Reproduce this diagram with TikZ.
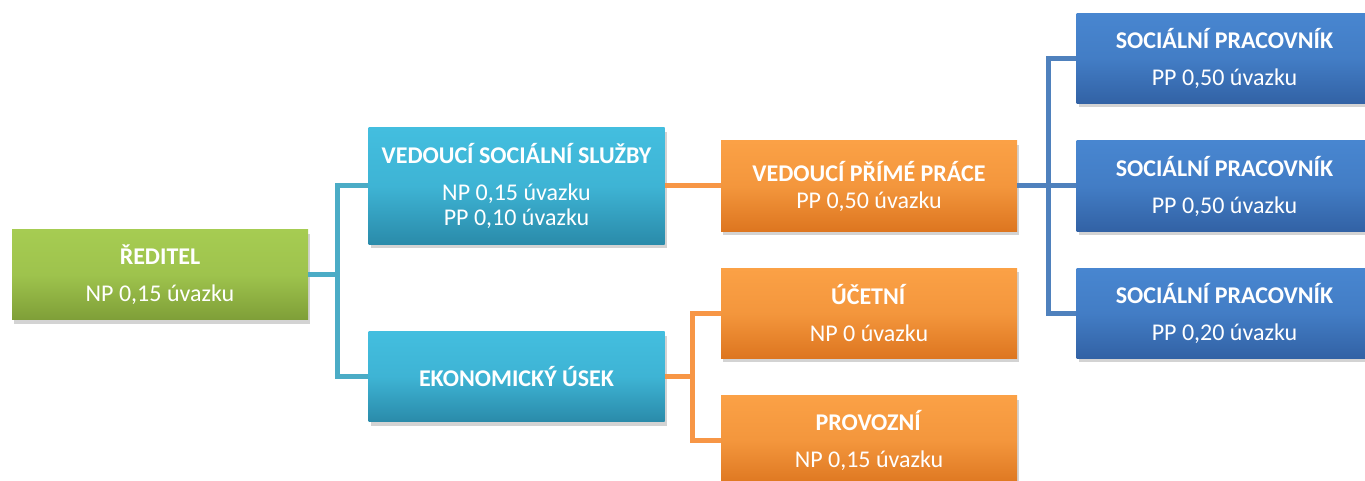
\documentclass[tikz,border=0pt]{standalone}
\usepackage{fontspec}
\setmainfont{Carlito}
\usetikzlibrary{shadows}
\definecolor{greentop}{HTML}{A6CC52}
\definecolor{greenbot}{HTML}{7F9F38}
\definecolor{tealtop}{HTML}{43BEDF}
\definecolor{tealbot}{HTML}{2A8BAA}
\definecolor{orangetop}{HTML}{FBA146}
\definecolor{orangebot}{HTML}{DD7620}
\definecolor{bluetop}{HTML}{4886D0}
\definecolor{bluebot}{HTML}{3262A5}
\definecolor{tealline}{HTML}{4BACC6}
\definecolor{orangeline}{HTML}{F79646}
\definecolor{blueline}{HTML}{4F81BD}
\begin{document}
\begin{tikzpicture}[x=1pt,y=-1pt,
    box/.style={rectangle, minimum width=296pt, minimum height=90pt, inner sep=0pt,
      align=center, text=white, font=\fontsize{24}{25}\selectfont,
      drop shadow={shadow xshift=2pt, shadow yshift=-4pt, opacity=0.35}},
    greenbox/.style={box, top color=greentop, bottom color=greenbot, middle color=greentop!80!greenbot},
    tealbox/.style={box, top color=tealtop, bottom color=tealbot, middle color=tealtop!80!tealbot},
    orangebox/.style={box, top color=orangetop, bottom color=orangebot, middle color=orangetop!75!orangebot},
    bluebox/.style={box, top color=bluetop, bottom color=bluebot, middle color=bluetop!75!bluebot},
    link/.style={line width=5pt, line join=miter}]
  \clip (0,0) rectangle (1365,481);

  % Drawing boxes
  \node [greenbox] (reditel) at (160,274.5) {\textbf{ŘEDITEL}\\[12pt]NP 0,15 úvazku};
  \node [tealbox, minimum height=116pt] (vss) at (516.5,186) {\textbf{VEDOUCÍ SOCIÁLNÍ SLUŽBY}\\[12pt]NP 0,15 úvazku\\PP 0,10 úvazku};
  \node [tealbox] (eko) at (516.5,376.5) {\textbf{EKONOMICKÝ ÚSEK}};
  \node [orangebox] (vpp) at (869,186) {\textbf{VEDOUCÍ PŘÍMÉ PRÁCE}\\[2pt]PP 0,50 úvazku};
  \node [orangebox] (ucetni) at (869,313) {\textbf{ÚČETNÍ}\\[12pt]NP 0 úvazku};
  \node [orangebox] (provozni) at (869,440.5) {\textbf{PROVOZNÍ}\\[12pt]NP 0,15 úvazku};
  \node [bluebox] (socA) at (1224.5,58.5) {\textbf{SOCIÁLNÍ PRACOVNÍK}\\[12pt]PP 0,50 úvazku};
  \node [bluebox] (socB) at (1224.5,186) {\textbf{SOCIÁLNÍ PRACOVNÍK}\\[12pt]PP 0,50 úvazku};
  \node [bluebox] (socC) at (1224.5,313) {\textbf{SOCIÁLNÍ PRACOVNÍK}\\[12pt]PP 0,20 úvazku};

  % Marking bus points
  \coordinate (busR) at (337,274.5);
  \coordinate (busE) at (692,376.5);
  \coordinate (busV) at (1048,186);

  % Drawing links
  \draw [link, tealline] (reditel.east) -- (busR);
  \draw [link, tealline] (vss.west) -| (busR) |- (eko.west);
  \draw [link, orangeline] (vss.east) -- (vpp.west);
  \draw [link, orangeline] (eko.east) -- (busE);
  \draw [link, orangeline] (ucetni.west) -| (busE) |- (provozni.west);
  \draw [link, blueline] (vpp.east) -- (busV);
  \draw [link, blueline] (socA.west) -| (busV) |- (socC.west);
  \draw [link, blueline] (busV) -- (socB.west);
\end{tikzpicture}
\end{document}
